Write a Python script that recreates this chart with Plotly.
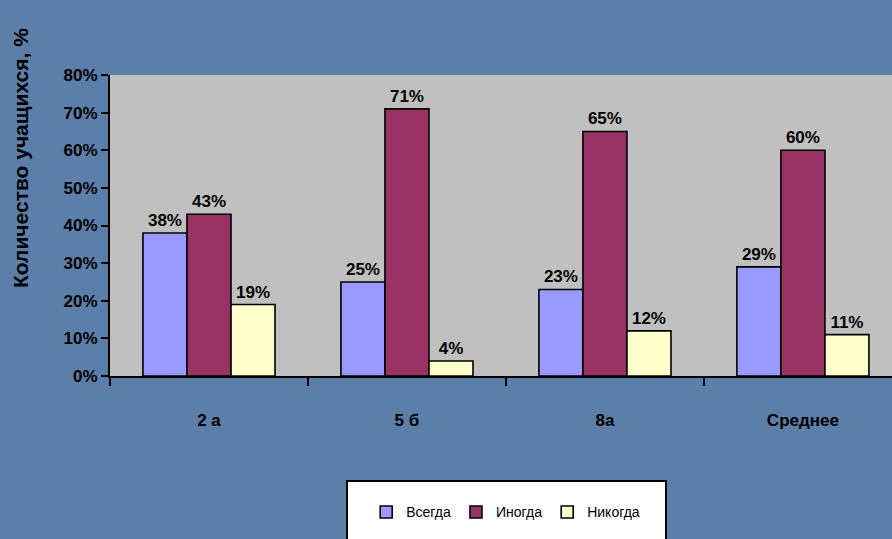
import plotly.graph_objects as go

categories = ["2 а", "5 б", "8а", "Среднее"]
series_names = ["Всегда", "Иногда", "Никогда"]
vsegda = [38, 25, 23, 29]
inogda = [43, 71, 65, 60]
nikogda = [19, 4, 12, 11]
y_ticks = [0, 10, 20, 30, 40, 50, 60, 70, 80]
y_tick_labels = [f"{v}%" for v in y_ticks]
colors = ["#9999ff", "#993366", "#ffffcc"]

FONT = "Liberation Sans, Arial, sans-serif"

fig = go.Figure()
for name, vals, col in zip(series_names, [vsegda, inogda, nikogda], colors):
    fig.add_trace(go.Bar(
        x=categories, y=vals, name=name,
        marker=dict(color=col, line=dict(color="black", width=1.6)),
        text=[f"{v}%" for v in vals], textposition="outside",
        textfont=dict(family=FONT, size=17, color="black", weight="bold"),
        cliponaxis=False,
    ))

fig.update_layout(
    width=892, height=539,
    margin=dict(l=110, r=0, t=75, b=163),
    paper_bgcolor="#5b7fa9",
    plot_bgcolor="#c0c0c0",
    barmode="group", bargap=0.333, bargroupgap=0,
    showlegend=True,
    legend=dict(
        orientation="h", x=0.506, xanchor="center", y=-0.40, yanchor="top",
        bgcolor="rgba(0,0,0,0)", borderwidth=0,
        font=dict(family=FONT, size=14, color="black"),
        itemwidth=30,
    ),
    font=dict(family=FONT, color="black"),
)
fig.update_xaxes(
    range=[-0.5, 3.45],
    showline=True, linecolor="black", linewidth=2,
    ticks="outside", tickson="boundaries", ticklen=8, tickcolor="black", tickwidth=2,
    tickfont=dict(family=FONT, size=17, color="black", weight="bold"),
    ticklabelstandoff=28,
    showgrid=False,
)
fig.update_yaxes(
    range=[0, 80], tickvals=y_ticks, ticktext=y_tick_labels,
    showline=True, linecolor="black", linewidth=2,
    ticks="outside", ticklen=7, tickcolor="black", tickwidth=2,
    tickfont=dict(family=FONT, size=17, color="black", weight="bold"),
    showgrid=False, zeroline=False,
)
# legend box
fig.add_shape(type="rect", xref="paper", yref="paper",
              x0=(347 - 110) / 782, x1=(666 - 110) / 782,
              y0=(376 - 545) / 301, y1=(376 - 481) / 301,
              fillcolor="white", line=dict(color="black", width=2), layer="below")
# y axis title
fig.add_annotation(
    text="Количество учащихся, %", xref="paper", yref="paper",
    x=(20 - 110) / 782, y=(376 - 158) / 301, textangle=-90, showarrow=False,
    font=dict(family=FONT, size=21, color="black", weight="bold"),
    xanchor="center", yanchor="middle",
)

fig.write_html("out.html", config={"displayModeBar": False},
               post_script="document.body.style.margin='0';document.body.style.background='#5b7fa9';")
